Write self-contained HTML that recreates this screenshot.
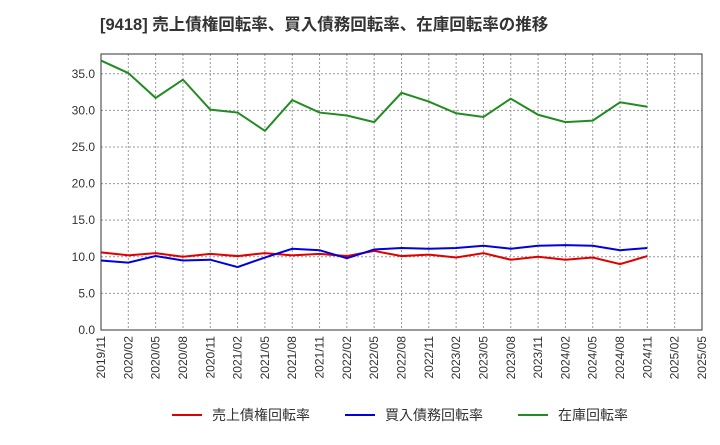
<!DOCTYPE html>
<html><head><meta charset="utf-8"><style>
body{margin:0;background:#fff;font-family:"Liberation Sans","Noto Sans CJK JP",sans-serif;}
</style></head><body>
<svg id="chart" width="720" height="440" xmlns="http://www.w3.org/2000/svg" style="font-family:'Liberation Sans','Noto Sans CJK JP',sans-serif">
<text x="100" y="30" font-size="16.5" font-weight="bold" fill="#333">[9418]  売上債権回転率、買入債務回転率、在庫回転率の推移</text>
<g id="grid"></g><g id="axes"></g><g id="series"></g><g id="legend"></g>
</svg>
<script>
const categories=["2019/11","2020/02","2020/05","2020/08","2020/11","2021/02","2021/05","2021/08","2021/11","2022/02","2022/05","2022/08","2022/11","2023/02","2023/05","2023/08","2023/11","2024/02","2024/05","2024/08","2024/11","2025/02","2025/05"];
const yTicks=[0,5,10,15,20,25,30,35];
const receivables=[10.6,10.2,10.5,10.0,10.4,10.1,10.5,10.2,10.4,10.1,10.8,10.1,10.3,9.9,10.5,9.6,10.0,9.6,9.9,9.0,10.1];
const payables=[9.5,9.2,10.1,9.5,9.6,8.6,9.9,11.1,10.9,9.8,11.0,11.2,11.1,11.2,11.5,11.1,11.5,11.6,11.5,10.9,11.2];
const inventory=[36.8,35.1,31.7,34.2,30.1,29.7,27.2,31.4,29.7,29.3,28.4,32.4,31.2,29.6,29.1,31.6,29.4,28.4,28.6,31.1,30.5];
const L=101,R=702,T=54,B=330,yMax=37.7;
const xs=i=>L+i*(R-L)/(categories.length-1);
const ys=v=>B-v/yMax*(B-T);
const NS="http://www.w3.org/2000/svg";
function mk(p,tag,at){const e=document.createElementNS(NS,tag);for(const k in at)e.setAttribute(k,at[k]);p.appendChild(e);return e;}
const grid=document.getElementById('grid'),axes=document.getElementById('axes'),series=document.getElementById('series'),legend=document.getElementById('legend');
const bg=mk(grid,'rect',{x:L,y:T,width:R-L,height:B-T,fill:'#fff',stroke:'#333'});


yTicks.forEach(v=>{
 const g=mk(grid,'line',{x1:L,x2:R,y1:ys(v),y2:ys(v),stroke:'#999','stroke-dasharray':'2,2'});
 
 
 const t=mk(axes,'text',{x:L-6,y:ys(v)+4,'text-anchor':'end','font-size':12,fill:'#333'});
 t.textContent=v.toFixed(1);
 
 
});
categories.forEach((c,i)=>{
 const g=mk(grid,'line',{x1:xs(i),x2:xs(i),y1:T,y2:B,stroke:'#999','stroke-dasharray':'2,2'});
 
 
 const t=mk(axes,'text',{transform:`translate(${xs(i)+4},${B+6}) rotate(-90)`,'text-anchor':'end','font-size':12,fill:'#333'});
 t.textContent=c;
 
 
});
const ax=mk(axes,'rect',{x:L,y:T,width:R-L,height:B-T,fill:'none',stroke:'#333'});


const defs=[[receivables,'#e00000','売上債権回転率','receivables-line'],[payables,'#0000e0','買入債務回転率','payables-line'],[inventory,'#228B22','在庫回転率','inventory-line']];
defs.forEach(([d,col,name,dn])=>{
 const p=mk(series,'polyline',{points:d.map((v,i)=>xs(i)+','+ys(v)).join(' '),fill:'none',stroke:col,'stroke-width':2});
 
 
});
const lx=[172,345,518];
defs.forEach(([d,col,name],k)=>{
 const g=mk(legend,'g',{});
 
 
 mk(g,'line',{x1:lx[k],x2:lx[k]+30,y1:415,y2:415,stroke:col,'stroke-width':2});
 const t=mk(g,'text',{x:lx[k]+40,y:420,'font-size':14,fill:'#333'});
 t.textContent=name;
});
</script>
</body></html>
